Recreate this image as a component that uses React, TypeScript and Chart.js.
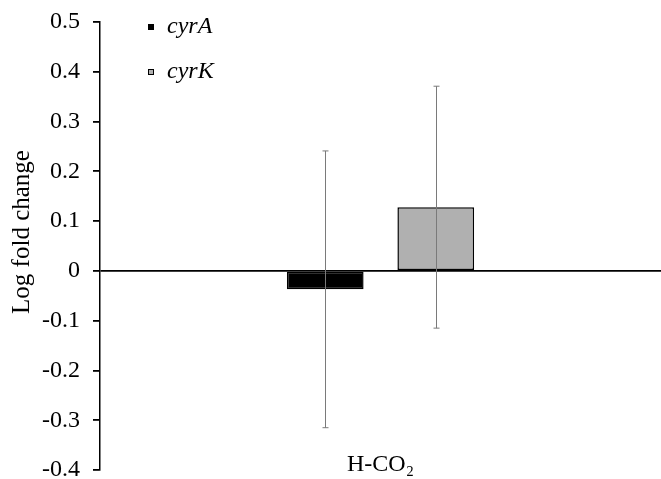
import { useEffect, useRef } from "react";
import { Chart, registerables } from "chart.js";

Chart.register(...registerables);

const categories = ["H-CO₂"];
const seriesNames = ["cyrA", "cyrK"];
const cyrAValues = [-0.037];
const cyrKValues = [0.128];
const cyrAErrors = [0.278];
const cyrKErrors = [0.243];
const yMin = -0.4;
const yMax = 0.5;
const yStep = 0.1;
const yTitle = "Log fold change";

const FONT = "'Liberation Serif', 'Times New Roman', serif";

const errorBarPlugin = {
  id: "errorBars",
  afterDatasetsDraw(chart: any) {
    const ctx = chart.ctx;
    const y = chart.scales.y;
    chart.data.datasets.forEach((ds: any, di: number) => {
      const meta = chart.getDatasetMeta(di);
      meta.data.forEach((bar: any, i: number) => {
        const v = ds.data[i];
        const e = ds.errors[i];
        const top = y.getPixelForValue(v + e);
        const bot = y.getPixelForValue(v - e);
        const x = Math.round(bar.x) + 0.5;
        ctx.save();
        ctx.strokeStyle = "#7a7a7a";
        ctx.lineWidth = 1;
        ctx.beginPath();
        ctx.moveTo(x, top);
        ctx.lineTo(x, bot);
        ctx.moveTo(x - 3, top);
        ctx.lineTo(x + 3, top);
        ctx.moveTo(x - 3, bot);
        ctx.lineTo(x + 3, bot);
        ctx.stroke();
        ctx.restore();
      });
    });
  },
};

const labelsAndLegendPlugin = {
  id: "labelsAndLegend",
  afterDraw(chart: any) {
    const ctx = chart.ctx;
    const xs = chart.scales.x;
    const area = chart.chartArea;
    ctx.save();
    ctx.fillStyle = "#000";
    ctx.font = `24px ${FONT}`;
    ctx.textAlign = "center";
    ctx.textBaseline = "alphabetic";
    chart.data.labels.forEach((lab: string, i: number) => {
      ctx.fillText(lab, xs.getPixelForValue(i), area.bottom + 1);
    });
    // y-axis title
    ctx.save();
    ctx.translate(22, 232);
    ctx.rotate(-Math.PI / 2);
    ctx.textAlign = "center";
    ctx.textBaseline = "middle";
    ctx.font = `25px ${FONT}`;
    ctx.fillText(yTitle, 0, 0);
    ctx.restore();
    // legend
    const legendX = 148;
    const legendY = [27, 72];
    ctx.textAlign = "left";
    ctx.textBaseline = "middle";
    ctx.font = `italic 24px ${FONT}`;
    chart.data.datasets.forEach((ds: any, di: number) => {
      const cy = legendY[di];
      ctx.fillStyle = ds.backgroundColor;
      ctx.fillRect(legendX, cy - 3, 6, 6);
      ctx.strokeStyle = "#000";
      ctx.lineWidth = 1;
      ctx.strokeRect(legendX + 0.5, cy - 2.5, 5, 5);
      ctx.fillStyle = "#000";
      ctx.fillText(ds.label, legendX + 19, cy);
    });
    ctx.restore();
  },
};

export default function App() {
  const ref = useRef<HTMLCanvasElement | null>(null);
  useEffect(() => {
    if (!ref.current) return;
    const chart = new Chart(ref.current, {
      type: "bar",
      data: {
        labels: categories,
        datasets: [
          {
            label: seriesNames[0],
            data: cyrAValues,
            errors: cyrAErrors,
            backgroundColor: "#000000",
            borderColor: "#000000",
            borderWidth: 1.5,
            borderSkipped: false,
          } as any,
          {
            label: seriesNames[1],
            data: cyrKValues,
            errors: cyrKErrors,
            backgroundColor: "#b0b0b0",
            borderColor: "#000000",
            borderWidth: 1.5,
            borderSkipped: false,
          } as any,
        ],
      },
      options: {
        responsive: false,
        animation: false,
        categoryPercentage: 0.394,
        barPercentage: 0.694,
        layout: { padding: { top: 22, right: 0, bottom: 9, left: 0 } },
        plugins: {
          legend: { display: false },
          tooltip: { enabled: false },
        },
        scales: {
          x: { display: false },
          y: {
            min: yMin,
            max: yMax,
            afterFit(scale: any) {
              scale.width = 100;
              scale.paddingTop = 0;
              scale.paddingBottom = 0;
            },
            ticks: {
              stepSize: yStep,
              color: "#000",
              padding: 13,
              font: { family: FONT, size: 24 },
              callback: (v: any) => {
                const r = Math.round(Number(v) * 10) / 10;
                return r === 0 ? "0" : r.toFixed(1);
              },
            },
            grid: {
              color: (c: any) => (c.tick && Math.abs(c.tick.value) < 1e-9 ? "#000" : "rgba(0,0,0,0)"),
              lineWidth: 1.8,
              tickColor: "#000",
              tickLength: 7,
              drawTicks: true,
            },
            border: { display: true, color: "#000", width: 1.5 },
            title: { display: false },
          },
        },
      } as any,
      plugins: [errorBarPlugin, labelsAndLegendPlugin],
    });
    return () => chart.destroy();
  }, []);
  return (
    <div style={{ position: "fixed", left: 0, top: 0, width: 661, height: 479, background: "#fff" }}>
      <canvas ref={ref} width={661} height={479} />
    </div>
  );
}
